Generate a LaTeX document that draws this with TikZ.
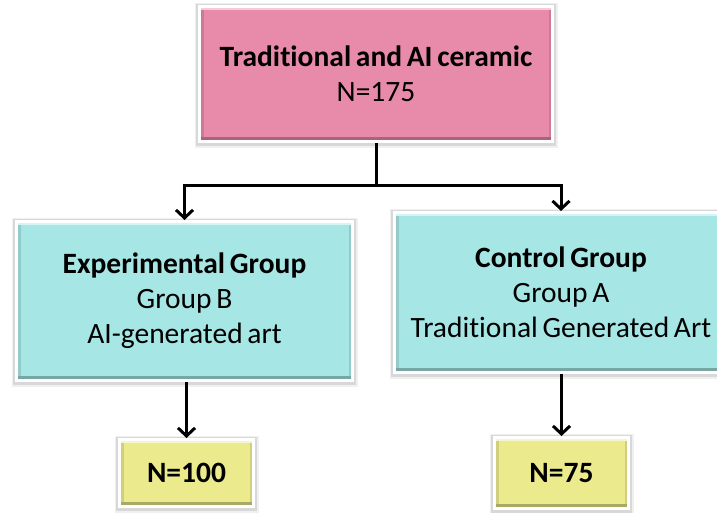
\documentclass[tikz,border=0pt]{standalone}
\usepackage{fontspec}
\setmainfont{Carlito}[Ligatures=NoCommon,WordSpace=0.7]
\usetikzlibrary{arrows.meta,positioning,calc}
\definecolor{boxpink}{RGB}{232,139,171}
\definecolor{boxcyan}{RGB}{166,231,230}
\definecolor{boxyellow}{RGB}{235,235,142}
\tikzset{
    box/.style={rectangle,draw=white,line width=3pt,fill=#1,align=center,inner sep=0pt,
        preaction={draw=black,opacity=0.06,line width=10pt,transform canvas={yshift=-1.5pt}},
        preaction={draw=black,opacity=0.10,line width=7pt,transform canvas={yshift=-1pt}},
        path picture={
            \fill[#1!88!black] (path picture bounding box.south west) rectangle ([xshift=4pt]path picture bounding box.north west);
            \fill[#1!88!black] (path picture bounding box.south east) rectangle ([xshift=-4pt]path picture bounding box.north east);
            \fill[#1!72!black] (path picture bounding box.south west) rectangle ([yshift=4.5pt]path picture bounding box.south east);
            \fill[#1!45!white] (path picture bounding box.north west) rectangle ([yshift=-3.5pt]path picture bounding box.north east);
        }},
    link/.style={line width=3pt,black},
    arr/.style={link,-{Straight Barb[length=8pt,width=17pt]}},
}
\tikzstyle{every node}=[font=\fontsize{29.5}{35}\selectfont]

\begin{document}
\begin{tikzpicture}[x=1pt,y=-1pt]
    \useasboundingbox (0,0) rectangle (717,512);
    \clip (0,0) rectangle (717,512);
    \node[box=boxpink,minimum width=353pt,minimum height=135pt] (total) at (376,74)
        {\textbf{Traditional and AI ceramic}\\N=175};
    \node[box=boxcyan,minimum width=336pt,minimum height=159pt] (exp) at (184.5,301)
        {\textbf{Experimental Group}\\Group B\\AI-generated art};
    \node[box=boxcyan,minimum width=333pt,minimum height=160pt] (ctrl) at (561,292.5)
        {\textbf{Control Group}\\Group A\\Traditional Generated Art};
    \node[box=boxyellow,minimum width=134pt,minimum height=67pt] (nexp) at (186.5,473) {\textbf{N=100}};
    \node[box=boxyellow,minimum width=134pt,minimum height=71pt] (nctrl) at (561.5,473) {\textbf{N=75}};
    % split below the total sample
    \draw[link] (total.south) -- (total.south |- 0,185) coordinate (split);
    \draw[arr] (split) -| (exp.north);
    \draw[arr] (split) -| (ctrl.north);
    \draw[arr] (exp.south -| nexp.north) -- (nexp.north);
    \draw[arr] (ctrl.south -| nctrl.north) -- (nctrl.north);
\end{tikzpicture}
\end{document}
